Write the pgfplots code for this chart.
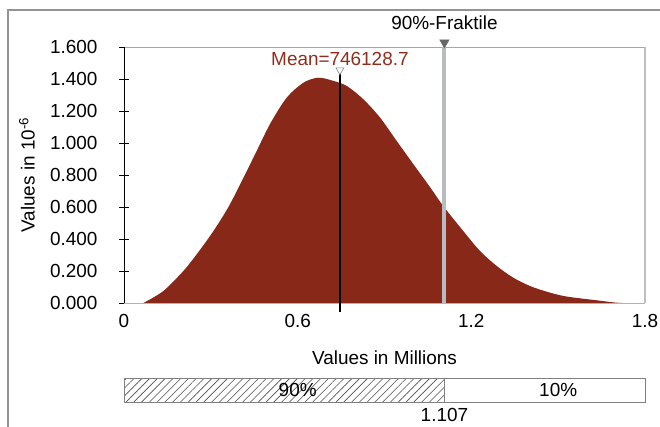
\documentclass[border=0pt]{standalone}
\usepackage{pgfplots}
\pgfplotsset{compat=1.18}
\usepackage{fontspec}
\setmainfont{Liberation Sans}
\usetikzlibrary{patterns.meta}
\definecolor{curvecol}{RGB}{135,40,25}
\definecolor{meancol}{RGB}{145,45,30}
\definecolor{fracgray}{RGB}{184,188,192}
\definecolor{basepink}{RGB}{225,160,145}
\newcommand{\fs}{\fontsize{19}{22}\selectfont}
\begin{document}
\fs
\begin{tikzpicture}
\useasboundingbox (0,0) rectangle (660bp,427bp);
\draw[gray!85, line width=1.2bp] (8bp,0bp) -- (8bp,417bp) -- (660bp,417bp);
\begin{axis}[
  at={(124bp,124bp)}, anchor=south west, scale only axis,
  width=521bp, height=256bp,
  xmin=0, xmax=1.8, ymin=0, ymax=1.6,
  clip=false,
  axis line style={draw=none},
  xtick={0,0.6,1.2,1.8},
  ytick={0,0.2,0.4,0.6,0.8,1.0,1.2,1.4,1.6},
  ytick pos=left,
  xtick style={draw=none},
  ytick style={black, line width=0.8bp},
  tick align=center, major tick length=10bp,
  /pgf/number format/assume math mode=true,
  tick label style={font=\fs},
  yticklabel style={/pgf/number format/.cd, fixed, fixed zerofill, precision=3, /tikz/.cd, xshift=-15bp},
  xticklabel style={/pgf/number format/.cd, fixed, precision=1},
]
% frame lines
\draw[gray!70, line width=0.8bp] (axis cs:0,1.6) -- (axis cs:1.8,1.6);
\draw[gray!50, line width=1.2bp] (axis cs:1.8,0) -- (axis cs:1.8,1.6);
% density
\addplot[fill=curvecol, draw=none, smooth, tension=0.5] table {
x y
0.067 0
0.136 0.075
0.205 0.200
0.251 0.304
0.309 0.450
0.366 0.617
0.447 0.908
0.504 1.117
0.562 1.283
0.620 1.377
0.671 1.408
0.720 1.390
0.770 1.356
0.827 1.273
0.885 1.158
0.942 1.013
1.000 0.867
1.057 0.725
1.103 0.606
1.172 0.450
1.230 0.325
1.288 0.231
1.345 0.158
1.403 0.106
1.460 0.071
1.518 0.044
1.576 0.029
1.633 0.017
1.690 0.004
1.720 0
} \closedcycle;
\addplot[basepink, line width=0.8bp] coordinates {(0,0) (1.8,0)};
\draw[black, line width=1bp] (axis cs:0,0) -- (axis cs:0,1.6);
% 90% fractile
\addplot[fracgray, line width=4bp] coordinates {(1.107,0) (1.107,1.6)};
\addplot[only marks, mark=triangle*, mark size=5.5bp, mark options={rotate=180, fill=black!60, draw=black!60}] coordinates {(1.107,1.628)};
% mean
\addplot[black, line width=1.2bp] coordinates {(0.746,-0.056) (0.746,1.44)};
\addplot[only marks, mark=triangle*, mark size=4.5bp, mark options={rotate=180, fill=white, draw=gray, line width=0.6bp}] coordinates {(0.746,1.455)};
\node[text=meancol, font=\fs] at (axis cs:0.746,1.525) {Mean=746128.7};
\node[font=\fs] at (axis cs:1.107,1.75) {90\%-Fraktile};
% x label
\node[font=\fs] at (axis cs:0.9,-0.34) {Values in Millions};
% percentile bar
\fill[pattern={Lines[angle=45,distance=5.5bp,line width=0.6bp]}, pattern color=gray!60!black] (axis cs:0,-0.469) rectangle (axis cs:1.107,-0.619);
\draw[gray, line width=0.8bp] (axis cs:0,-0.469) rectangle (axis cs:1.8,-0.619);
\draw[gray, line width=0.8bp] (axis cs:1.107,-0.469) -- (axis cs:1.107,-0.619);
\node[font=\fs] at (axis cs:0.6,-0.544) {90\%};
\node[font=\fs] at (axis cs:1.5,-0.544) {10\%};
\node[font=\fs] at (axis cs:1.107,-0.70) {1.107};
\end{axis}
\node[rotate=90, font=\fs] at (27bp,252bp) {Values in 10\textsuperscript{-6}};
\end{tikzpicture}
\end{document}
